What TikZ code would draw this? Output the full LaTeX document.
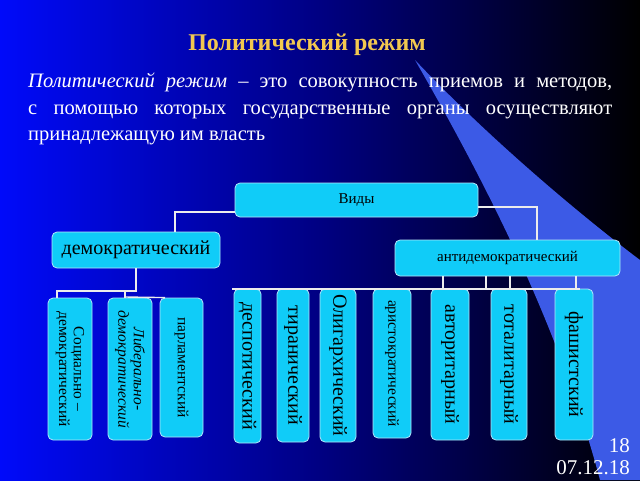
\documentclass[tikz,border=0pt]{standalone}
\usepackage{fontspec}
\setmainfont{Liberation Serif}
\begin{document}
\begin{tikzpicture}[x=1pt,y=-1pt,
 box/.style={draw=cyan!30,line width=0.8pt,fill=boxc,rounded corners=5pt,inner sep=0pt,text=black},
 vbox/.style={box,rotate=-90,align=center,font=\fontsize{20}{18}\selectfont},
 sbox/.style={vbox,font=\fontsize{15.5}{13.5}\selectfont},
 con/.style={draw=white!85!gray,line width=1.4pt}]
\definecolor{boxc}{HTML}{10CCF8}
\definecolor{ttl}{HTML}{F2C850}
\definecolor{bgl}{RGB}{0,10,250}
\definecolor{bgm}{RGB}{0,0,130}
\definecolor{beam}{RGB}{60,90,230}
\useasboundingbox (0,0) rectangle (640,480);
\shade[left color=bgl,right color=black,middle color=bgm] (0,0) rectangle (640,480);
\fill[beam] (415,60) .. controls (500,150) and (600,230) .. (640,260) -- (640,480) -- (600,480) .. controls (560,330) and (490,190) .. (415,60);
\node[font=\bfseries\fontsize{24}{26}\selectfont,text=ttl] (title) at (307,45) {Политический режим};
\node[text=white,font=\fontsize{20.5}{26.5}\selectfont,text width=584pt,align=justify,anchor=north west,inner sep=0pt] (def) at (28,73)
 {\textit{Политический режим} – это совокупность приемов и методов, с помощью которых государственные органы осуществляют принадлежащую им власть};
\node[box,minimum width=243pt,minimum height=34pt,font=\fontsize{15}{16}\selectfont] (vid) at (356.5,200) {Виды};
\node[box,minimum width=168pt,minimum height=36pt,font=\fontsize{20}{20}\selectfont] (dem) at (136,250) {демократический};
\node[box,minimum width=225pt,minimum height=36pt,font=\fontsize{15}{16}\selectfont] (anti) at (507.5,258) {антидемократический};
\node[sbox,minimum width=142pt,minimum height=44pt] (soc) at (70,369) {Социально –\\демократический};
\node[sbox,minimum width=142pt,minimum height=44pt] (lib) at (130,369) {\itshape Либерально-\\\itshape демократический};
\node[sbox,minimum width=139pt,minimum height=43pt] (par) at (181.5,367.5) {парламентский};
\node[vbox,minimum width=154pt,minimum height=27pt] (desp) at (247.5,366) {деспотический};
\node[vbox,minimum width=153pt,minimum height=32pt] (tir) at (293,365.5) {тиранический};
\node[vbox,minimum width=153pt,minimum height=36pt] (olig) at (338,365.5) {Олигархический};
\node[sbox,minimum width=149pt,minimum height=38pt] (ari) at (392,363.5) {аристократический};
\node[vbox,minimum width=151pt,minimum height=38pt] (avt) at (450,364.5) {авторитарный};
\node[vbox,minimum width=151pt,minimum height=36pt] (tot) at (509,364.5) {тоталитарный};
\node[vbox,minimum width=151pt,minimum height=38pt] (fas) at (574,364.5) {фашистский};
\draw[con] (vid.west|-0,212) -| (dem.north-|175,0);
\draw[con] (vid.east|-0,207) -| (anti.north-|537,0);
\draw[con] (dem.south) -- (136,291) -- (57,291) -- (soc.west-|57,0);
\draw[con] (125,291) -- (125,298);
\draw[con] (125,297) -- (par.west-|165,0);
\draw[con] (232,289) -- (580,289);
\draw[con] (anti.south-|443,0) -- (443,289);
\draw[con] (anti.south-|486,0) -- (486,289);
\draw[con] (anti.south-|510,0) -- (510,289);
\draw[con] (anti.south-|576,0) -- (576,289);
\node[text=white,font=\fontsize{21}{21}\selectfont,anchor=east,inner sep=0pt] (pg) at (630,446) {18};
\node[text=white,font=\fontsize{21}{21}\selectfont,anchor=east,inner sep=0pt] (dt) at (630,468) {07.12.18};
\end{tikzpicture}
\end{document}
